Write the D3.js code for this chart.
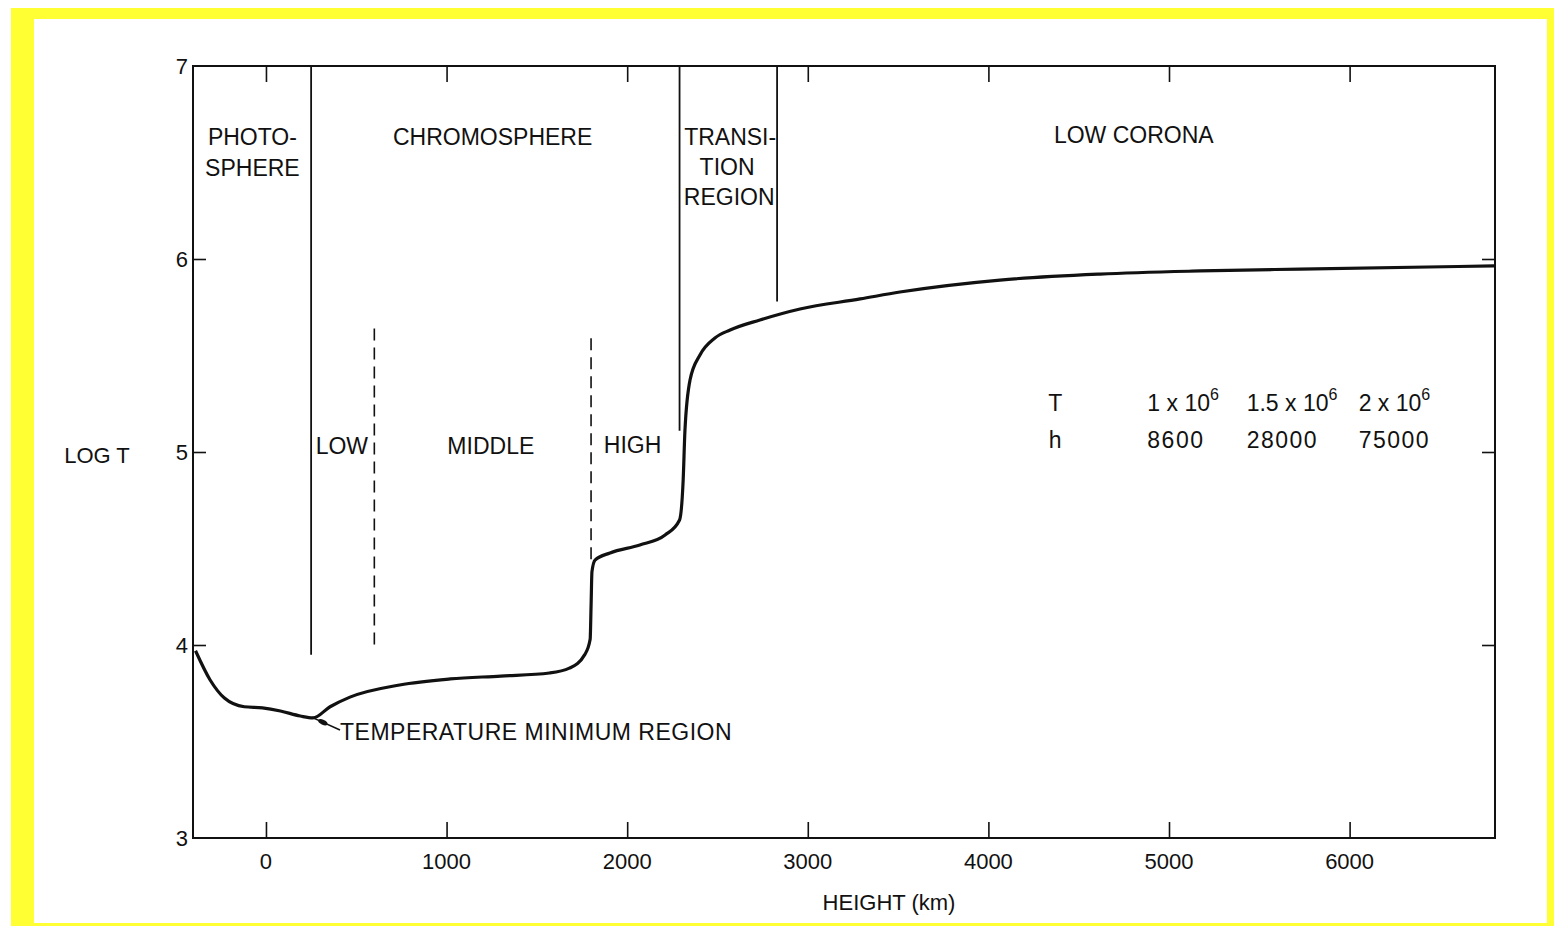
<!DOCTYPE html>
<html>
<head>
<meta charset="utf-8">
<script src="https://cdn.jsdelivr.net/npm/d3@7"></script>
<style>
  body { margin: 0; background: #fff; }
  text { font-family: "Liberation Sans", Arial, sans-serif; fill: #111; }
</style>
</head>
<body>
<div id="chart"></div>
<script>
// temperature profile, height in km vs log T
var heights = [-390, -310, -230, -120, -20, 80, 190, 260, 355, 465, 740, 1020, 1300, 1570, 1680, 1765, 1795, 1800, 1805, 1822, 1905, 2070, 2210, 2290, 2310, 2320, 2348, 2403, 2486, 2570, 2735, 2957, 3290, 3510, 4064, 4618, 5172, 5725, 6800]
var logT = [3.97, 3.82, 3.725, 3.68, 3.674, 3.658, 3.632, 3.622, 3.68, 3.73, 3.793, 3.824, 3.839, 3.855, 3.88, 3.95, 4.03, 4.2, 4.38, 4.44, 4.477, 4.518, 4.57, 4.648, 4.855, 5.114, 5.373, 5.503, 5.591, 5.632, 5.684, 5.741, 5.793, 5.829, 5.891, 5.922, 5.938, 5.948, 5.964]

// region boundaries
var solidBounds = [250, 2290, 2830]
var solidBottoms = [3.95, 5.11, 5.78]
var dashBounds = [600, 1800]
var dashTops = [5.64, 5.59]
var dashBottoms = [4.0, 4.44]

var xTicks = [0, 1000, 2000, 3000, 4000, 5000, 6000]
var yTicks = [3, 4, 5, 6, 7]

var tableRows = ['T', 'h']
var tableT = [['1 x 10', '6'], ['1.5 x 10', '6'], ['2 x 10', '6']]
var tableH = ['8600', '28000', '75000']

var W = 1554, H = 926
var svg = d3.select('#chart').append('svg').attr('width', W).attr('height', H)

svg.append('rect').attr('x', 11).attr('y', 8).attr('width', W - 11).attr('height', H - 8).style('fill', '#ffff33')
svg.append('rect').attr('x', 34).attr('y', 19).attr('width', 1513).attr('height', 904).style('fill', '#fff')

var pLeft = 193, pRight = 1495, pTop = 66, pBottom = 838
var x = d3.scaleLinear().domain([-404, 6805]).range([pLeft, pRight])
var y = d3.scaleLinear().domain([3, 7]).range([pBottom, pTop])

var g = svg.append('g')

// frame
g.append('rect').attr('x', pLeft).attr('y', pTop).attr('width', pRight - pLeft).attr('height', pBottom - pTop)
  .style('fill', 'none').style('stroke', '#111').style('stroke-width', 2)

// inward ticks on all four sides
g.append('g').attr('transform', 'translate(0,' + pBottom + ')')
  .call(d3.axisBottom(x).tickValues(xTicks).tickSize(-16).tickFormat(''))
  .call(function(a) { a.select('.domain').remove() })
g.append('g').attr('transform', 'translate(0,' + pTop + ')')
  .call(d3.axisTop(x).tickValues(xTicks).tickSize(-16).tickFormat(''))
  .call(function(a) { a.select('.domain').remove() })
g.append('g').attr('transform', 'translate(' + pLeft + ',0)')
  .call(d3.axisLeft(y).tickValues([4, 5, 6]).tickSize(-13).tickFormat(''))
  .call(function(a) { a.select('.domain').remove() })
g.append('g').attr('transform', 'translate(' + pRight + ',0)')
  .call(d3.axisRight(y).tickValues([4, 5, 6]).tickSize(-13).tickFormat(''))
  .call(function(a) { a.select('.domain').remove() })
g.selectAll('.tick line').style('stroke', '#111').style('stroke-width', 1.6)

// tick labels
g.selectAll('.xlab').data(xTicks).enter().append('text')
  .attr('x', function(d) { return x(d) }).attr('y', 869)
  .attr('text-anchor', 'middle').style('font-size', '22px')
  .text(function(d) { return d })
g.selectAll('.ylab').data(yTicks).enter().append('text')
  .attr('x', 188).attr('y', function(d) { return y(d) + 8 })
  .attr('text-anchor', 'end').style('font-size', '22px')
  .text(function(d) { return d })

g.append('text').attr('x', 889).attr('y', 910).attr('text-anchor', 'middle')
  .style('font-size', '22px').text('HEIGHT (km)')
g.append('text').attr('x', 97).attr('y', 463).attr('text-anchor', 'middle')
  .style('font-size', '22px').text('LOG T')

// boundary lines
g.selectAll('.sb').data(solidBounds).enter().append('line')
  .attr('x1', function(d) { return x(d) }).attr('x2', function(d) { return x(d) })
  .attr('y1', y(7)).attr('y2', function(d, i) { return y(solidBottoms[i]) })
  .style('stroke', '#111').style('stroke-width', 1.8)
g.selectAll('.db').data(dashBounds).enter().append('line')
  .attr('x1', function(d) { return x(d) }).attr('x2', function(d) { return x(d) })
  .attr('y1', function(d, i) { return y(dashTops[i]) }).attr('y2', function(d, i) { return y(dashBottoms[i]) })
  .style('stroke', '#111').style('stroke-width', 1.6).style('stroke-dasharray', '12,7')

// the profile
var pts = heights.map(function(h, i) { return [h, logT[i]] })
g.append('path').datum(pts)
  .attr('d', d3.line().x(function(d) { return x(d[0]) }).y(function(d) { return y(d[1]) }).curve(d3.curveMonotoneX))
  .style('fill', 'none').style('stroke', '#111').style('stroke-width', 3.2)

// region labels
var lab = function(t, h, lt, fs) {
  g.append('text').attr('x', x(h)).attr('y', y(lt)).attr('text-anchor', 'middle')
    .style('font-size', (fs || 23) + 'px').text(t)
}
lab('PHOTO-', -75, 6.59)
lab('SPHERE', -75, 6.43)
lab('CHROMOSPHERE', 1255, 6.59)
lab('TRANSI-', 2570, 6.59)
lab('TION', 2553, 6.435)
lab('REGION', 2565, 6.28)
lab('LOW CORONA', 4805, 6.6)
lab('LOW', 420, 4.99)
lab('MIDDLE', 1245, 4.99)
lab('HIGH', 2030, 4.995)

// temperature minimum pointer
g.append('line').attr('x1', x(255)).attr('y1', y(3.625)).attr('x2', x(410)).attr('y2', y(3.56))
  .style('stroke', '#111').style('stroke-width', 1.6)
g.append('ellipse').attr('cx', x(315)).attr('cy', y(3.6)).attr('rx', 5).attr('ry', 2.5)
  .attr('transform', 'rotate(25,' + x(315) + ',' + y(3.6) + ')').style('fill', '#111')
g.append('text').attr('x', x(410)).attr('y', y(3.51)).style('font-size', '23px')
  .style('letter-spacing', '0.5px').text('TEMPERATURE MINIMUM REGION')

// small table
var colX = [4370, 4880, 5430, 6050]
var rowT = [5.215, 5.02]
g.selectAll('.trow').data(tableRows).enter().append('text')
  .attr('x', x(colX[0])).attr('y', function(d, i) { return y(rowT[i]) })
  .attr('text-anchor', 'middle').style('font-size', '23px').text(function(d) { return d })
var tt = g.selectAll('.tt').data(tableT).enter().append('text')
  .attr('x', function(d, i) { return x(colX[i + 1]) }).attr('y', y(rowT[0]))
  .style('font-size', '23px')
tt.append('tspan').text(function(d) { return d[0] })
tt.append('tspan').attr('dy', -11).style('font-size', '16px').text(function(d) { return d[1] })
g.selectAll('.th').data(tableH).enter().append('text')
  .attr('x', function(d, i) { return x(colX[i + 1]) }).attr('y', y(rowT[1]))
  .style('font-size', '23px').style('letter-spacing', '1.5px').text(function(d) { return d })
</script>
</body>
</html>
